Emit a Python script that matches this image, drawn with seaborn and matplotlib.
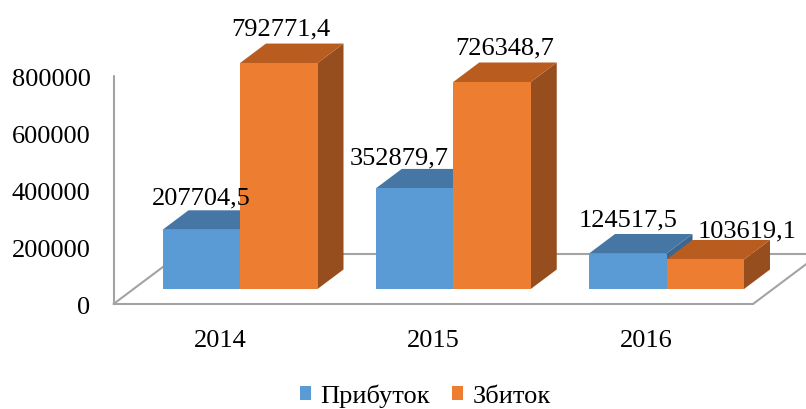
import numpy as np
import pandas as pd
import seaborn as sns
import matplotlib
matplotlib.use("Agg")
import matplotlib.pyplot as plt
from matplotlib.patches import Polygon, Rectangle

# ---------------- data ----------------
years = ["2014", "2015", "2016"]
series = ["Прибуток", "Збиток"]
profit = [207704.5, 352879.7, 124517.5]
loss = [792771.4, 726348.7, 103619.1]
profit_labels = ["207704,5", "352879,7", "124517,5"]
loss_labels = ["792771,4", "726348,7", "103619,1"]
yticks = [0, 200000, 400000, 600000, 800000]

# ---------------- style ----------------
front_colors = ["#5B9BD5", "#ED7D31"]
top_colors = ["#4676A3", "#B95C20"]
side_colors = ["#3B6690", "#974E1E"]
grid_color = "#A3A3A3"
FS = 19

sns.set_theme(style="white")
plt.rcParams["font.family"] = ["Liberation Serif", "DejaVu Serif"]

W, H = 806, 409
fig = plt.figure(figsize=(W / 100, H / 100), dpi=100)
ax = fig.add_axes([0, 0, 1, 1])

df = pd.DataFrame({
    "year": years * 2,
    "value": profit + loss,
    "series": [series[0]] * len(years) + [series[1]] * len(years),
})

# layout (pixels)
x0_px, step_px = 240.0, 213.25
base_px = 289.0
scale = 228 / 800000.0  # px per value unit
TSHIFT = -4  # text vertical correction (px)

sns.barplot(data=df, x="year", y="value", hue="series", order=years,
            hue_order=series, palette=front_colors, saturation=1,
            width=155 / step_px, linewidth=0, legend=False, ax=ax)

ax.set_xlim(-x0_px / step_px, (W - x0_px) / step_px)
ax.set_ylim(-(H - base_px) / scale, base_px / scale)
ax.set_axis_off()

px_x = lambda p: p / step_px
px_y = lambda p: p / scale

DX, DY = px_x(26), px_y(19.5)

bars = list(ax.patches)
lefts, rights = [], []
for p in bars:
    x, w, h = p.get_x(), p.get_width(), p.get_height()
    c = x + w / 2
    g = int(round(c))
    k = 0 if c < g else 1
    z = 10 + g * 10 + k * 4
    lefts.append(x)
    rights.append(x + w)
    side = Polygon([(x + w, 0), (x + w + DX, DY), (x + w + DX, h + DY), (x + w, h)],
                   closed=True, facecolor=side_colors[k], edgecolor="none", zorder=z)
    top = Polygon([(x, h), (x + w, h), (x + w + DX, h + DY), (x + DX, h + DY)],
                  closed=True, facecolor=top_colors[k], edgecolor="none", zorder=z + 1)
    ax.add_patch(side)
    ax.add_patch(top)
    p.set_zorder(z + 2)

# data labels
label_offsets = [[(0, 35), (-15.5, 34), (0.5, 37)],
                 [(2.5, 38), (13, 38), (41.5, 32)]]
for k, (vals, texts) in enumerate([(profit, profit_labels), (loss, loss_labels)]):
    for g, (v, t) in enumerate(zip(vals, texts)):
        bw = 155 / step_px / 2
        cx = g - bw / 2 if k == 0 else g + bw / 2
        ox, oy = label_offsets[k][g]
        ax.text(cx + px_x(ox), v + px_y(oy + TSHIFT), t, ha="center", va="center",
                fontsize=FS, color="black", zorder=100)

# floor / wall
FX, FY = px_x(20), px_y(15)
BX, BY = px_x(46.7), px_y(35)
fl = min(lefts) - px_x(29)
fr = max(rights) + px_x(29)
lw = 1.5
ax.plot([fl - FX, fr - FX], [-FY, -FY], color=grid_color, lw=lw, zorder=1)
ax.plot([fl - FX, fl + BX], [-FY, BY], color=grid_color, lw=lw, zorder=1)
ax.plot([fl + BX, fr + BX], [BY, BY], color=grid_color, lw=lw, zorder=1)
ax.plot([fr - FX, fr + BX], [-FY, BY], color=grid_color, lw=lw, zorder=1)
ax.plot([fl - FX, fl - FX], [-FY, yticks[-1] - FY], color=grid_color, lw=lw, zorder=1)

for t in yticks:
    ax.text(fl - FX - px_x(23), t - FY + px_y(TSHIFT), f"{t}", ha="right", va="center",
            fontsize=FS, color="black")

for g, yr in enumerate(years):
    ax.text(g - FX, -FY - px_y(33) + px_y(TSHIFT), yr, ha="center", va="center",
            fontsize=FS, color="black")

handles = [Rectangle((0, 0), 1, 1, facecolor=c, edgecolor="none") for c in front_colors]
fig.legend(handles, series, loc="center", bbox_to_anchor=(425 / W, 1 - 396 / H),
           ncol=2, frameon=False, fontsize=FS, handlelength=0.42, handleheight=0.42,
           handletextpad=0.35, columnspacing=0.85, labelcolor="black")

fig.savefig("out.png", dpi=100)
